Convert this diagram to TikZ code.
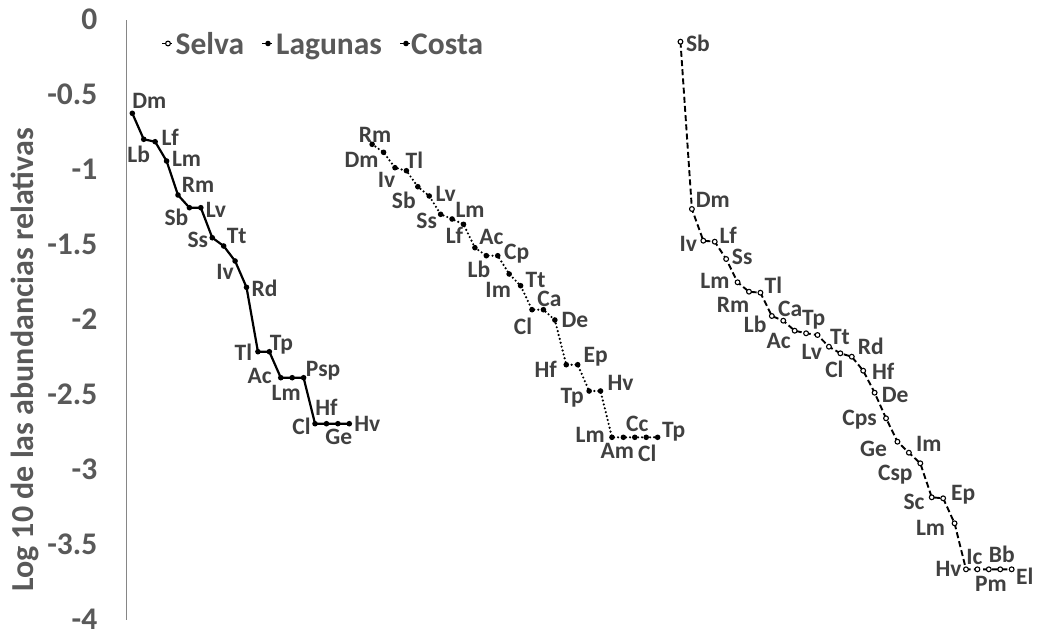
\documentclass[tikz,border=0pt]{standalone}
\usepackage{fontspec}
\setmainfont{Carlito}
\usetikzlibrary{calc}
\definecolor{axisgray}{HTML}{868686}
\definecolor{txtgray}{HTML}{595959}
\definecolor{labgray}{HTML}{404040}
\begin{document}
\begin{tikzpicture}[x=1pt,y=-1pt,
  lab/.style={font=\fontsize{23.5}{24}\selectfont\bfseries, text=labgray, inner sep=0pt, text height=15pt, text depth=0pt, anchor=center},
  ticklab/.style={font=\fontsize{31.5}{32}\selectfont\bfseries, text=txtgray, inner sep=0pt, anchor=base east},
  legtxt/.style={font=\fontsize{31.5}{32}\selectfont\bfseries, text=txtgray, inner sep=0pt, anchor=base west},
  ytitle/.style={font=\fontsize{32}{33}\selectfont\bfseries, text=txtgray, inner sep=0pt, anchor=base, rotate=90},
  axisline/.style={draw=axisgray, line width=1.4pt},
  costaline/.style={line width=2.2pt, black, line join=round},
  lagline/.style={line width=2.4pt, black, line cap=round, dash pattern=on 0pt off 4pt},
  selvaline/.style={line width=1.9pt, black, dash pattern=on 6pt off 3.2pt},
  legline/.style={line width=1.2pt, black},
  fdot/.style={fill=black, draw=none},
  odot/.style={fill=white, draw=black, line width=1.1pt}]
\useasboundingbox (0,0) rectangle (1038,634);
\fill[white] (0,0) rectangle (1038,634);

% axis
\coordinate (axtop) at (126.6,20.5);
\coordinate (axbot) at (126.6,620);
\draw[axisline] (axtop) -- (axbot);
\foreach \v/\t [count=\k] in {0/0,0.5/-0.5,1/-1,1.5/-1.5,2/-2,2.5/-2.5,3/-3,3.5/-3.5,4/-4}
  \node[ticklab] (tick\k) at (97.5,{20.5+150*\v+9}) {\t};
\node[ytitle] (ytitle) at (33.5,360) {Log 10 de las abundancias relativas};

% legend
\coordinate (lsA) at (162,43.5); \coordinate (lsB) at (172,43.5); \coordinate (lsM) at (168,43.5);
\coordinate (llA) at (262,43.5); \coordinate (llB) at (272,43.5); \coordinate (llM) at (268,43.5);
\coordinate (lcA) at (400,43.5); \coordinate (lcB) at (410,43.5); \coordinate (lcM) at (406,43.5);
\draw[legline] (lsA) -- (lsB);
\draw[legline] (llA) -- (llB);
\draw[legline] (lcA) -- (lcB);
\filldraw[odot] (lsM) circle[radius=2.4pt];
\fill[fdot] (llM) circle[radius=2.8pt];
\fill[fdot] (lcM) circle[radius=2.8pt];
\node[legtxt] (legS) at (175.5,55) {Selva};
\node[legtxt] (legL) at (276,55) {Lagunas};
\node[legtxt] (legC) at (411,55) {Costa};

% Costa points (index 1..20)
\foreach \y [count=\i] in {113.3,139.3,141.7,161,195,207.7,207.7,237.7,246,261,287.3,351.7,351.7,377.7,377.7,377.7,423.7,423.7,423.7,423.7}
  \coordinate (c\i) at ({126.6+(\i-0.5)*11.42},\y);
% Lagunas points (index 22..47)
\foreach \y [count=\i] in {144.3,152.3,167.7,170.7,186.7,196,214.3,219,224.3,247.7,255.7,255.7,274,285.7,309.7,309.7,320,364.7,364.7,391,391,437.3,437.3,437.3,437.3,437.3}
  \coordinate (l\i) at ({126.6+(\i+20.5)*11.42},\y);
% Selva points (index 49..78)
\foreach \y [count=\i] in {41.7,209,240.7,241.7,259,282.3,291.7,292.7,316,320.7,330.7,333.3,335,346.7,353.3,356.7,370.7,392.7,418.3,441.7,452.7,463.3,497.3,498.3,523.3,569.3,569.3,569.3,569.3,569.3}
  \coordinate (s\i) at ({126.6+(\i+47.5)*11.42},\y);

% lines
\draw[costaline] (c1) \foreach \i in {2,...,20}{ -- (c\i)};
\draw[lagline] (l1) \foreach \i in {2,...,26}{ -- (l\i)};
\draw[selvaline] (s1) \foreach \i in {2,...,30}{ -- (s\i)};

% markers
\foreach \i in {1,...,20} \fill[fdot] (c\i) circle[radius=2.8pt];
\foreach \i in {1,...,26} \fill[fdot] (l\i) circle[radius=2.8pt];
\foreach \i in {1,...,30} \filldraw[odot] (s\i) circle[radius=2.4pt];

% Costa labels
\foreach \k/\t/\dx/\dy in {1/Dm/17/-12, 2/Lb/-5/16, 3/Lf/15/-4, 4/Lm/20/-2, 5/Rm/20/-10,
  6/Sb/-13/10, 7/Lv/15/2, 8/Ss/-14.5/2, 9/Tt/13/-10, 10/Iv/-10/11, 11/Rd/18/2,
  12/Tl/-14.5/1, 13/Tp/12/-9, 14/Ac/-21/-2, 15/Lm/-6/15, 16/Psp/19.5/-9,
  17/Cl/-13.5/3, 18/Hf/0/-16, 19/Ge/1/13, 20/Hv/18/0}
  \node[lab] (cL\k) at ($(c\k)+(\dx,\dy)$) {\t};
% Lagunas labels
\foreach \k/\t/\dx/\dy in {1/Rm/3/-9, 2/Dm/-22/8, 3/Iv/-8.5/12, 4/Tl/8/-10, 5/Sb/-14/14,
  6/Lv/16.5/-2.5, 7/Ss/-14/7, 8/Lm/18/-9, 9/Lf/-9/12, 10/Ac/16.5/-11, 11/Lb/-7.5/14,
  12/Cp/19/-4, 13/Im/-11/15.5, 14/Tt/15/-6, 15/Cl/-9/17, 16/Ca/6/-11, 17/De/20/0,
  18/Hf/-20.5/5, 19/Ep/18/-10, 20/Tp/-17/4.5, 21/Hv/20/-8.5, 22/Lm/-21.7/-2,
  23/Am/-6/14, 24/Cc/2.5/-13, 25/Cl/1/17, 26/Tp/16/-7}
  \node[lab] (lL\k) at ($(l\k)+(\dx,\dy)$) {\t};
% Selva labels
\foreach \k/\t/\dx/\dy in {1/Sb/17.5/2, 2/Dm/21/-9.5, 3/Iv/-15/3, 4/Lf/13.5/-6, 5/Ss/16/-2.5,
  6/Lm/-22.7/-1, 7/Rm/-16/13, 8/Tl/13/-7, 9/Lb/-16.7/9, 10/Ca/7/-12, 11/Tp/19/-13,
  12/Ac/-27.5/8, 13/Lv/-5.7/17, 14/Tt/11/-10, 15/Cl/-6/17, 16/Rd/19/-10, 17/Hf/20/1,
  18/De/20.5/2, 19/Cps/-26.5/0, 20/Ge/-24/7, 21/Im/20/-9, 22/Csp/-25/10, 23/Sc/-17.7/5,
  24/Ep/20/-5, 25/Lm/-24/5, 26/Hv/-17.5/0, 27/Ic/-3/-12, 28/Pm/2/15, 29/Bb/1.5/-14,
  30/El/13/8}
  \node[lab] (sL\k) at ($(s\k)+(\dx,\dy)$) {\t};
\end{tikzpicture}
\end{document}
